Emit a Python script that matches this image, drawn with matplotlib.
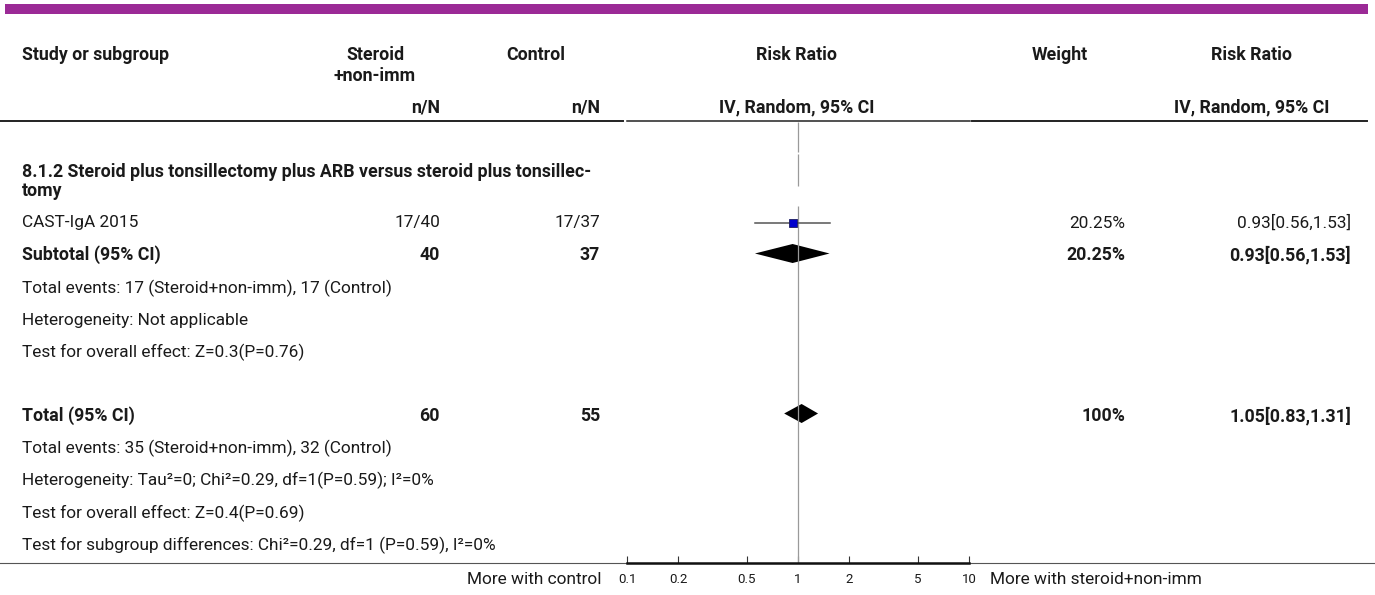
import matplotlib
matplotlib.use("Agg")
import matplotlib.pyplot as plt
from matplotlib.patches import Polygon, Rectangle
from matplotlib.lines import Line2D

plt.rcParams['font.family'] = ['Roboto', 'DejaVu Sans']

# ---- data ----
subgroup_title = ["8.1.2 Steroid plus tonsillectomy plus ARB versus steroid plus tonsillec-", "tomy"]
studies = ["CAST-IgA 2015"]
exp_events = [17]
exp_total = [40]
ctl_events = [17]
ctl_total = [37]
study_rr = [0.93]
study_lo = [0.56]
study_hi = [1.53]
study_weight = [20.25]

subtotal_n = (40, 37)
subtotal_rr = (0.93, 0.56, 1.53)
subtotal_weight = 20.25
subtotal_notes = ["Total events: 17 (Steroid+non-imm), 17 (Control)",
                  "Heterogeneity: Not applicable",
                  "Test for overall effect: Z=0.3(P=0.76)"]

total_n = (60, 55)
total_rr = (1.05, 0.83, 1.31)
total_weight = 100
total_notes = ["Total events: 35 (Steroid+non-imm), 32 (Control)",
               "Heterogeneity: Tau\u00b2=0; Chi\u00b2=0.29, df=1(P=0.59); I\u00b2=0%",
               "Test for overall effect: Z=0.4(P=0.69)",
               "Test for subgroup differences: Chi\u00b2=0.29, df=1 (P=0.59), I\u00b2=0%"]

axis_ticks = [0.1, 0.2, 0.5, 1, 2, 5, 10]
axis_ticklabels = ["0.1", "0.2", "0.5", "1", "2", "5", "10"]
favours_left = "More with control"
favours_right = "More with steroid+non-imm"

# ---- layout (pixel units, origin top-left) ----
W, H = 1375, 595
FS = 12.4
FS_BOLD = 12.8
TXT = "#1a1a1a"

fig = plt.figure(figsize=(W / 100, H / 100), dpi=100)
tab = fig.add_axes([0, 0, 1, 1])
tab.set_xlim(0, W)
tab.set_ylim(H, 0)
tab.axis("off")

def t(x, y, s, ha="left", bold=False, size=None):
    if size is None:
        size = FS_BOLD if bold else FS
    tab.text(x, y, s, ha=ha, va="center", fontsize=size,
             fontweight="bold" if bold else "normal", color=TXT)

# top banner
tab.add_patch(Rectangle((5, 3.5), 1363, 10, color="#9B2A96", lw=0))

# column headers
x_study, x_exp_r, x_ctl_r = 22, 440, 600
x_exp_c, x_ctl_c, x_rr_c = 375, 536, 797
x_w_c, x_w_r, x_rr2_c, x_rr2_r = 1060, 1125, 1252, 1351
t(x_study, 55, "Study or subgroup", bold=True)
t(x_exp_c, 55, "Steroid", ha="center", bold=True)
t(x_exp_c, 76, "+non-imm", ha="center", bold=True)
t(x_ctl_c, 55, "Control", ha="center", bold=True)
t(x_rr_c, 55, "Risk Ratio", ha="center", bold=True)
t(x_w_c, 55, "Weight", ha="center", bold=True)
t(x_rr2_c, 55, "Risk Ratio", ha="center", bold=True)
t(x_exp_r, 107, "n/N", ha="right", bold=True)
t(x_ctl_r, 107, "n/N", ha="right", bold=True)
t(x_rr_c, 107, "IV, Random, 95% CI", ha="center", bold=True)
t(x_rr2_c, 107, "IV, Random, 95% CI", ha="center", bold=True)

# header rule
for x0, x1, lw in [(0, 623, 1.4), (627, 970, 1.1), (972, 1367, 1.4)]:
    tab.add_line(Line2D([x0, x1], [120.5, 120.5], color="#222222", lw=lw))

# subgroup heading
t(x_study, 172, subgroup_title[0], bold=True)
t(x_study, 191, subgroup_title[1], bold=True)

# study rows
row_y = [223]
for i, name in enumerate(studies):
    y = row_y[i]
    t(x_study, y, name)
    t(x_exp_r, y, f"{exp_events[i]}/{exp_total[i]}", ha="right")
    t(x_ctl_r, y, f"{ctl_events[i]}/{ctl_total[i]}", ha="right")
    t(x_w_r, y, f"{study_weight[i]:.2f}%", ha="right")
    t(x_rr2_r, y, f"{study_rr[i]:.2f}[{study_lo[i]:.2f},{study_hi[i]:.2f}]", ha="right")

# subtotal
y_sub = 255
t(x_study, y_sub, "Subtotal (95% CI)", bold=True)
t(x_exp_r, y_sub, str(subtotal_n[0]), ha="right", bold=True)
t(x_ctl_r, y_sub, str(subtotal_n[1]), ha="right", bold=True)
t(x_w_r, y_sub, f"{subtotal_weight:.2f}%", ha="right", bold=True)
t(x_rr2_r, y_sub, "{:.2f}[{:.2f},{:.2f}]".format(*subtotal_rr), ha="right", bold=True)
for k, s in enumerate(subtotal_notes):
    t(x_study, 288 + 32.3 * k, s)

# overall total
y_tot = 416
t(x_study, y_tot, "Total (95% CI)", bold=True)
t(x_exp_r, y_tot, str(total_n[0]), ha="right", bold=True)
t(x_ctl_r, y_tot, str(total_n[1]), ha="right", bold=True)
t(x_w_r, y_tot, f"{total_weight}%", ha="right", bold=True)
t(x_rr2_r, y_tot, "{:.2f}[{:.2f},{:.2f}]".format(*total_rr), ha="right", bold=True)
for k, s in enumerate(total_notes):
    t(x_study, 448.5 + 32.3 * k, s)

# bottom rule and favours labels
tab.add_line(Line2D([0, W], [563.3, 563.3], color="#555555", lw=0.8))
t(602, 579, favours_left, ha="right")
t(990, 579, favours_right, ha="left")

# ---- forest plot axis (log scale, y in pixel rows) ----
ax_l, ax_r, ax_b = 627, 969, 563.3
ax = fig.add_axes([ax_l / W, (H - ax_b) / H, (ax_r - ax_l) / W, ax_b / H])
ax.set_xscale("log")
ax.set_xlim(0.1, 10)
ax.set_ylim(ax_b, 0)
ax.patch.set_alpha(0)
for side in ["top", "left", "right"]:
    ax.spines[side].set_visible(False)
ax.spines["bottom"].set_linewidth(1.8)
ax.spines["bottom"].set_color("#111111")
ax.set_yticks([])
ax.set_xticks(axis_ticks)
ax.set_xticklabels(axis_ticklabels)
ax.xaxis.set_minor_locator(matplotlib.ticker.NullLocator())
ax.tick_params(axis="x", direction="in", length=5, width=0.8, color="#333333",
               pad=7, labelsize=9.5, labelcolor=TXT)

# null line
for y0, y1 in [(122, 152), (154, 186), (206, ax_b)]:
    ax.plot([1, 1], [y0, y1], color="#9a9a9a", lw=0.9, solid_capstyle="butt")

# study estimates
for i in range(len(studies)):
    y = row_y[i]
    ax.plot([study_lo[i], study_hi[i]], [y, y], color="#555555", lw=1.1)
    ax.plot([study_rr[i]], [y], marker="s", markersize=5.5, color="#0000CC",
            markeredgecolor="#1a1a60", markeredgewidth=0.6)

def diamond(est, lo, hi, y, h=9.5):
    ax.add_patch(Polygon([(lo, y), (est, y - h), (hi, y), (est, y + h)],
                         closed=True, color="black", lw=0))

diamond(*subtotal_rr, y_sub - 1.5)
diamond(*total_rr, y_tot - 2.5)

fig.savefig("out.png", dpi=100)
